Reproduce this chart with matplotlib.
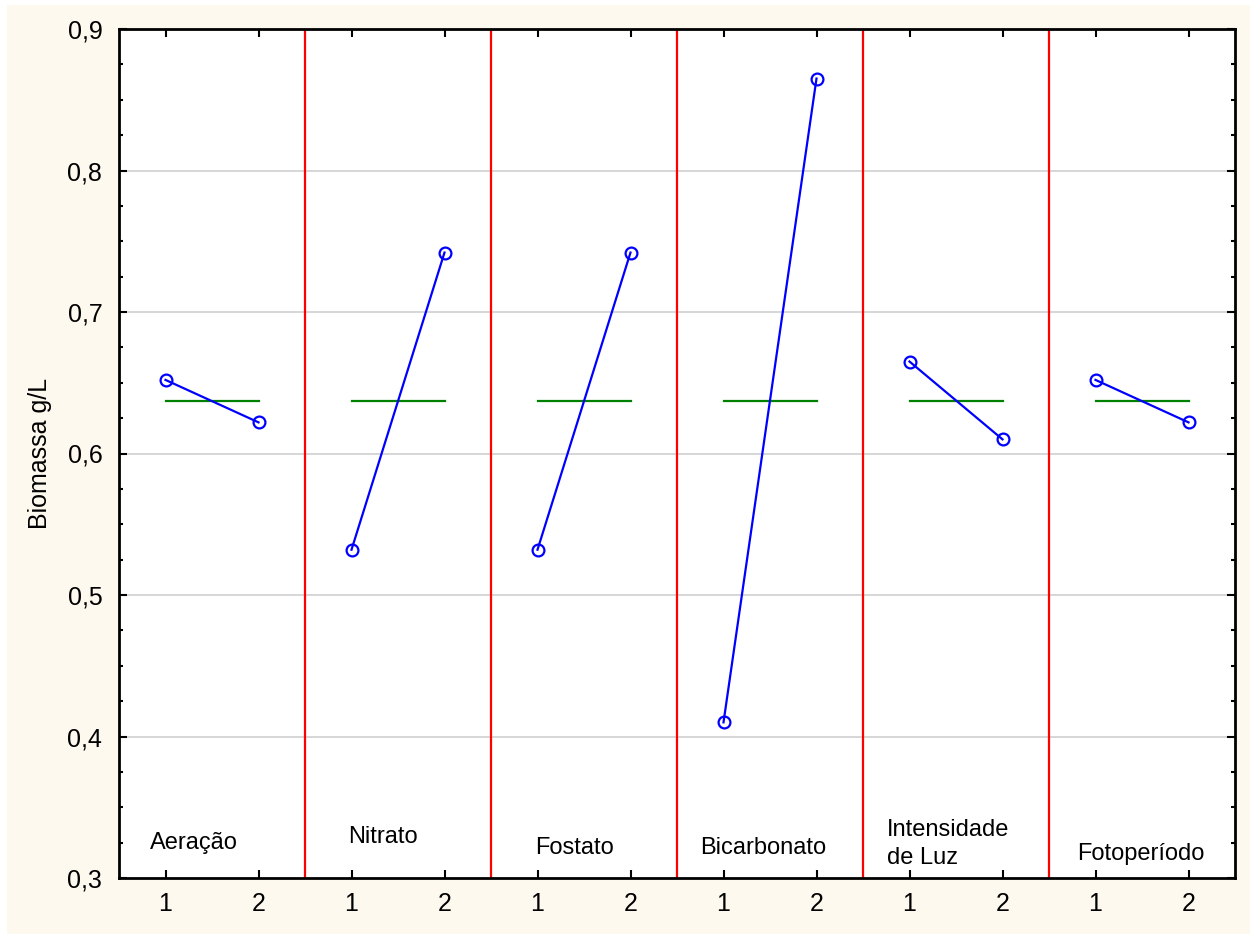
import matplotlib.pyplot as plt
from matplotlib.patches import Rectangle
from matplotlib.ticker import MultipleLocator, FixedLocator

plt.rcParams['font.family'] = ['Liberation Sans', 'DejaVu Sans']

fatores = ["Aeração", "Nitrato", "Fostato", "Bicarbonato", "Intensidade\nde Luz", "Fotoperíodo"]
nivel1 = [0.652, 0.532, 0.532, 0.410, 0.665, 0.652]
nivel2 = [0.622, 0.742, 0.742, 0.865, 0.610, 0.622]
media = 0.637
niveis = ["1", "2"]

# label positions inside each panel (x offset from panel start, y)
lab_dx = [0.33, 0.46, 0.47, 0.25, 0.26, 0.30]
lab_y = [0.325, 0.329, 0.321, 0.321, 0.324, 0.317]

fig = plt.figure(figsize=(12.5, 9.34), dpi=100, facecolor='white')
fig.patches.append(Rectangle((7 / 1250, 0), 1 - 7 / 1250, 1 - 5 / 934,
                             transform=fig.transFigure, facecolor='#fdf9ee',
                             edgecolor='none', zorder=-10))
ax = fig.add_axes([119 / 1250, 1 - 878 / 934, (1235 - 119) / 1250, (878 - 29) / 934])
ax.set_facecolor('white')

for i, nome in enumerate(fatores):
    x1, x2 = 2 * i + 1, 2 * i + 2
    ax.plot([x1, x2], [media, media], color='#008000', lw=1.6, zorder=3)
    ax.plot([x1, x2], [nivel1[i], nivel2[i]], color='#0000ff', lw=1.6,
            marker='o', markersize=8.5, markerfacecolor='none',
            markeredgewidth=1.6, zorder=4)
    ax.text(2 * i + 0.5 + lab_dx[i], lab_y[i], nome, fontsize=17,
            ha='left', va='center', linespacing=1.35)
    if i > 0:
        ax.axvline(2 * i + 0.5, color='#ff0000', lw=1.6, zorder=2)

for y in [0.4, 0.5, 0.6, 0.7, 0.8]:
    ax.axhline(y, color='#d0d0d0', lw=1.2, zorder=1)

ax.set_xlim(0.5, 12.5)
ax.set_ylim(0.3, 0.9)
ax.xaxis.set_major_locator(FixedLocator(range(1, 13)))
ax.set_xticklabels(niveis * 6)
ax.yaxis.set_major_locator(MultipleLocator(0.1))
ax.yaxis.set_minor_locator(MultipleLocator(0.025))
ax.set_yticklabels([f"{v:.1f}".replace('.', ',') for v in ax.get_yticks()])
ax.tick_params(axis='both', which='both', direction='in', top=True, right=True,
               labelsize=18, width=1.5)
ax.tick_params(axis='x', which='major', length=6, pad=10)
ax.tick_params(axis='y', which='major', length=6, pad=12)
ax.tick_params(axis='y', which='minor', length=3)
for s in ax.spines.values():
    s.set_linewidth(2)
ax.set_ylabel("Biomassa g/L", fontsize=18, labelpad=11)

fig.savefig("out.png", dpi=100, facecolor=fig.get_facecolor())
